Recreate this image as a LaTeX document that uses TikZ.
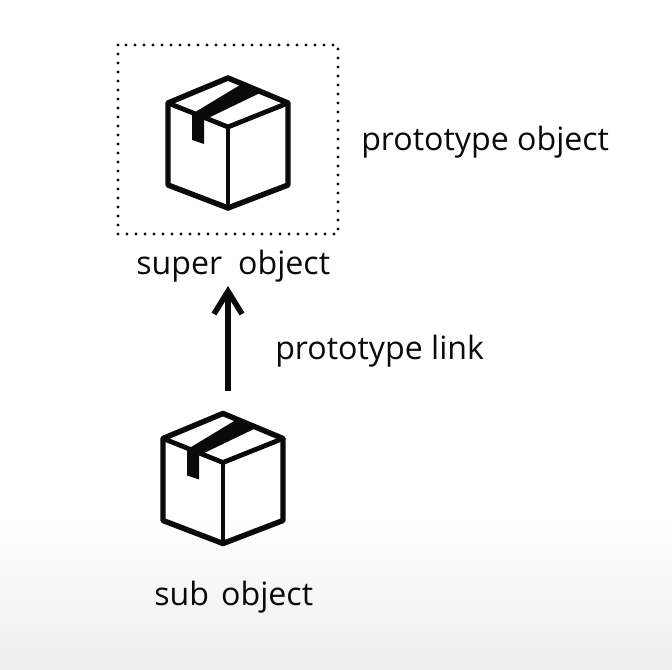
\documentclass[tikz,border=0pt]{standalone}
\usepackage{fontspec}
\setmainfont{Open Sans}
\usetikzlibrary{arrows.meta}
\definecolor{ink}{HTML}{0A0A0A}
\tikzset{
  x=0.75pt,y=-0.75pt,
  lbl/.style={font=\fontsize{24.1}{28}\selectfont,text=ink,inner sep=0pt,anchor=base west},
  cubeline/.style={draw=ink,line width=4.1pt,line join=round,line cap=round},
  parcel/.pic={
    \draw[cubeline] (228,78)--(288,103)--(288,185)--(228,208)--(168,185)--(168,103)--cycle;
    \draw[cubeline,line width=3.6pt] (168,103)--(228,127)--(288,103);
    \draw[cubeline,line width=3.6pt] (228,127)--(228,208);
    \fill[ink] (240,85)--(260,93)--(204,120)--(204,144)--(192,140)--(192,114)--cycle;
  }
}
\begin{document}
\begin{tikzpicture}
\useasboundingbox (0,0) rectangle (672,670);
\fill[white] (0,0) rectangle (672,670);
\shade[top color=white,bottom color=black!7] (0,520) rectangle (672,670);
\draw[line width=2.4pt,line cap=round,dash pattern=on 0pt off 6.75pt,ink] (118,45) rectangle (338,234);
\pic at (0,0) {parcel};
\pic at (-5,335.5) {parcel};
\node[lbl] (protoobj) at (361,151) {prototype object};
\node[lbl] (superobj) at (136,275) {super\hspace{0.5em}object};
\node[lbl] (protolink) at (275,360) {prototype link};
\node[lbl] (subobj) at (154,605) {sub\hspace{0.38em}object};
\coordinate (linkstart) at (228,391);
\coordinate (linkend) at (228,286);
\draw[line width=4.2pt,ink,-{Straight Barb[length=17pt,width=21pt,line width=4.2pt]}] (linkstart)--(linkend);
\end{tikzpicture}
\end{document}
